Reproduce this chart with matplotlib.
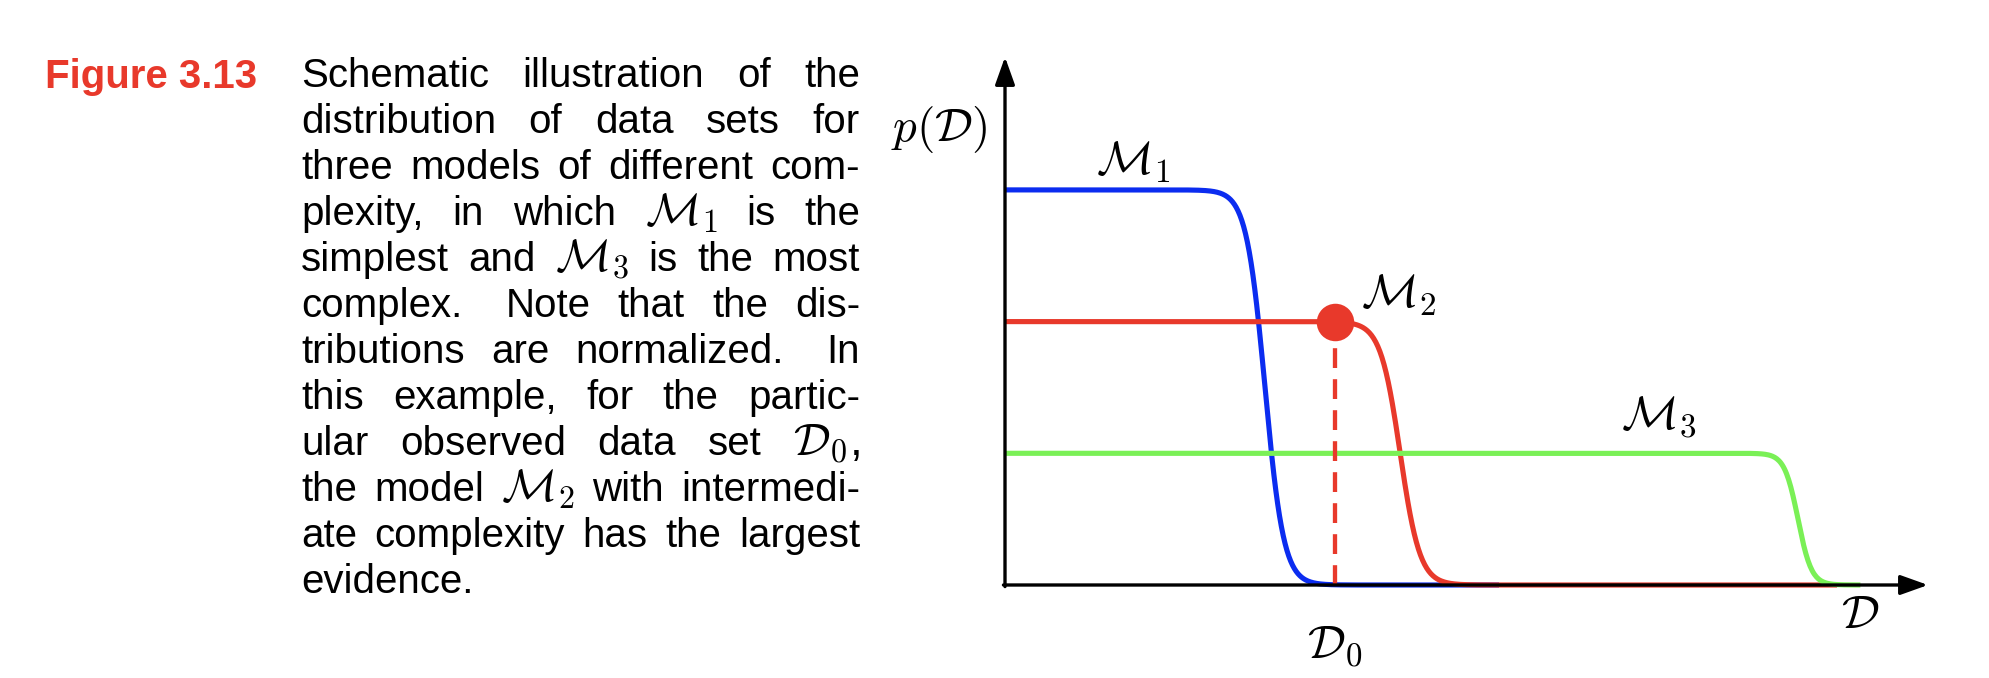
import matplotlib
matplotlib.use('Agg')
import matplotlib.pyplot as plt
from matplotlib.patches import ArrowStyle
import numpy as np

plt.rcParams['mathtext.fontset'] = 'cm'
plt.rcParams['font.family'] = ['Liberation Sans', 'DejaVu Sans']

model_labels = [r'$\mathcal{M}_1$', r'$\mathcal{M}_2$', r'$\mathcal{M}_3$']
plateau = [3.0, 2.0, 1.0]          # height of p(D) for each model
cutoff = [1.0, 1.52, 3.05]         # where each distribution falls off
softness = [0.036, 0.038, 0.026]   # width of the fall-off
curve_end = [1.9, 3.2, 3.29]
d0 = 1.27                          # observed data set D0

colors = ['#0b2cf0', '#e8392b', '#7af056']
red = '#e8392b'

caption_title = 'Figure 3.13'
caption_lines = [
    'Schematic illustration of the',
    'distribution of data sets for',
    'three models of different com-',
    r'plexity, in which $\mathcal{M}_1$ is the',
    r'simplest and $\mathcal{M}_3$ is the most',
    'complex. Note that the dis-',
    'tributions are normalized. In',
    'this example, for the partic-',
    r'ular observed data set $\mathcal{D}_0$,',
    r'the model $\mathcal{M}_2$ with intermedi-',
    'ate complexity has the largest',
    'evidence.',
]

W, H = 1990, 678
fig = plt.figure(figsize=(W / 100, H / 100), dpi=100)

# schematic axes: origin at pixel (1005, 585 from top)
x_px_per_unit = 260.0
y_px_per_unit = 131.7
ax_left, ax_bottom = 1005, 93
ax_w, ax_h = 1928 - 1005, 621 - 93
ax = fig.add_axes([ax_left / W, ax_bottom / H, ax_w / W, ax_h / H])
xmax = ax_w / x_px_per_unit
ymax = ax_h / y_px_per_unit
ax.set_xlim(0, xmax)
ax.set_ylim(0, ymax)
ax.axis('off')

for lev, c, w, end, col in zip(plateau, cutoff, softness, curve_end, colors):
    xs = np.linspace(0, end, 800)
    ys = lev / (1 + np.exp((xs - c) / w))
    ax.plot(xs, ys, color=col, lw=3.7, solid_capstyle='butt', zorder=2, clip_on=False)

# observed data set marker and dashed drop line
ax.plot([d0, d0], [0, plateau[1]], color=red, lw=3.1, ls=(0, (4.6, 2.6)), zorder=2, clip_on=False)
ax.plot(d0, plateau[1], 'o', ms=27, color=red, mew=0, zorder=4, clip_on=False)

# axes with arrow heads
head = ArrowStyle('-|>', head_length=0.7, head_width=0.25)
ax.annotate('', xy=(xmax, 0), xytext=(-0.006, 0),
            arrowprops=dict(arrowstyle=head, lw=2.4, color='k', mutation_scale=24,
                            shrinkA=0, shrinkB=0), zorder=3, annotation_clip=False)
ax.annotate('', xy=(0, ymax), xytext=(0, -0.012),
            arrowprops=dict(arrowstyle=head, lw=2.4, color='k', mutation_scale=24,
                            shrinkA=0, shrinkB=0), zorder=3, annotation_clip=False)

# labels
math_size = 34
label_pos = [(0.35, 3.11), (1.37, 2.10), (2.37, 1.19)]
for lab, (lx, ly) in zip(model_labels, label_pos):
    ax.text(lx, ly, lab, fontsize=math_size, ha='left', va='baseline')
ax.text(-0.07, 3.46, r'$p(\mathcal{D})$', fontsize=math_size, ha='right', va='center')
ax.text(3.29, -0.235, r'$\mathcal{D}$', fontsize=math_size, ha='center', va='center')
ax.text(d0, -0.46, r'$\mathcal{D}_0$', fontsize=math_size, ha='center', va='center')

# caption
cap_size = 29
fig.text(45 / W, (H - 88) / H, caption_title, fontsize=cap_size, weight='bold',
         color=red, va='baseline', ha='left')

fig.canvas.draw()
renderer = fig.canvas.get_renderer()
left_px, right_px = 301, 860
for i, line in enumerate(caption_lines):
    base = 87 + 46 * i
    words = line.split(' ')
    texts = []
    widths = []
    for wd in words:
        size = 33 if wd.startswith('$') else cap_size
        t = fig.text(0, (H - base) / H, wd, fontsize=size, va='baseline', ha='left')
        widths.append(t.get_window_extent(renderer).width)
        texts.append(t)
    gap_w = [1.6 if wd.endswith('.') else 1.0 for wd in words[:-1]]
    if i == len(caption_lines) - 1 or len(words) == 1:
        unit = 11.0
    else:
        unit = (right_px - left_px - sum(widths)) / sum(gap_w)
    x = left_px
    for j, t in enumerate(texts):
        t.set_x(x / W)
        x += widths[j]
        if j < len(gap_w):
            x += unit * gap_w[j]

fig.savefig('out.png', dpi=100)
